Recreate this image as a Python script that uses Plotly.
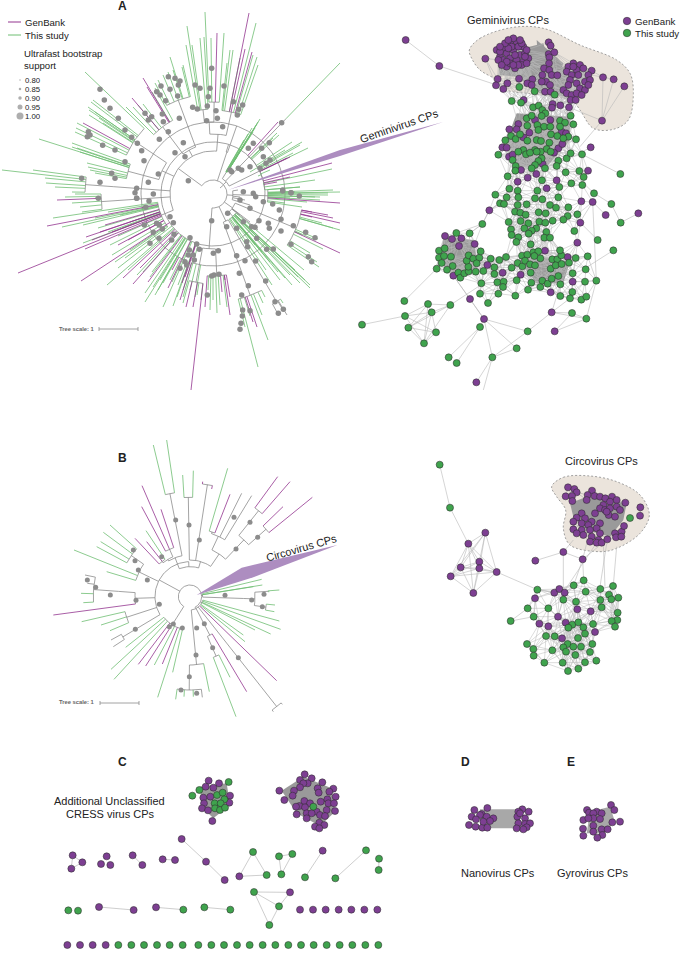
import math
import plotly.graph_objects as go

PURPLE = "#7d3f92"; GREEN = "#3fa34d"; EDGE = "#b9b9b9"; BLOB = "#9a9a9a"
T_GRAY = "#8c8c8c"; T_GREEN = "#6fbe72"; T_PURPLE = "#93358f"; BEIGE = "#ebe4dc"
FONT = "Liberation Sans"

def G(*v): return [(v[i], v[i+1], 'g') for i in range(0, len(v), 2)]
def P(*v): return [(v[i], v[i+1], 'p') for i in range(0, len(v), 2)]
def K(*v): return [(v[i], v[i+1], 'k') for i in range(0, len(v), 2)]
def N(r, *kids):
    out = []
    for k in kids:
        if isinstance(k, list) and k and isinstance(k[0], tuple): out += k
        else: out.append(k)
    return {'r': r, 'kids': out}

# ---------- Tree A (image pixels) ----------
a_top = N(60,
    N(72, N(85, G(187,26,192,45,186,45,200,38,204,37)), N(92, G(205,12,211,38,224,33), P(217,33))),
    N(70, N(84, G(230,50,227,63,233,50,256,23,253,55,257,57,258,65,240,58), P(249,13,245,49,252,52))))
a_upper = N(50,
    N(70, N(84, P(143,78,132,98,147,87), G(126,107,133,107,138,105,143,104,152,92,155,88))),
    N(62, N(100, G(170,57,155,83,158,80,163,75,168,72,173,70,182,67,183,65))))
a_nw = N(56,
    N(68, N(95, G(85,72,91,102,88,107,89,110,89,115,77,123,76,128,75,132,95,112,99,118,93,100,103,123), P(83,123))),
    N(88, G(39,139,72,143,72,147,77,148,80,152,87,163,88,167,90,170,95,173)))
a_w1 = N(70, N(100, N(128, G(2,170,33,170,45,178,46,183,55,187,72,192))))
a_w2 = N(78, N(112, G(65,197,75,194,72,203,80,207,82,212,95,198), P(57,200)))
a_w3 = N(48, N(56, G(53,218,62,227,83,225,83,243,112,255,115,262,118,236,108,232,98,228,120,215,108,212,95,218,130,222,122,228,110,245,130,250,125,258), P(47,226,105,225,86,237,85,249,18,273,100,232,92,240,112,232,118,245,128,240)))
a_big = N(43, a_top, a_upper, a_nw, a_w1, a_w2, a_w3)
a_sw = N(44,
    N(52, P(81,281,123,278,133,284,148,282,168,288,140,268,182,283,185,277), G(107,285,145,293,145,302,158,290,163,307,173,306,177,297,128,270,118,268,152,272,160,280,137,275,143,272,150,277,153,287,163,283,172,282,183,297)),
    N(72, G(170,280,155,295,183,290,178,285,190,290,195,297), P(172,270,180,300)))
a_south = N(55,
    N(90, P(191,390,186,307,193,307,200,283), G(201,300,197,295,183,303)),
    N(82, P(205,307,230,315,230,297,222,292,225,280), G(210,310,217,313,227,307,213,300,220,305,208,290)))
a_sse = N(30,
    N(70, N(108, G(245,327,258,367,268,340,262,315,263,303,265,297,250,316), P(257,327,253,322))),
    N(85, N(125, G(283,303,277,303), K(287,315,279,316,283,310))))
a_se = N(24,
    N(30, G(310,288,310,285,304,270,298,277,295,270,290,275,285,278,278,272,270,262,262,252,255,245,272,285,305,280,300,283,292,285,280,280,266,270)),
    N(55, N(90, G(319,267,317,262,310,253,323,249,315,240,318,239,302,235), P(340,253,328,215,333,218,340,223,312,212,312,217), G(322,223,333,228,340,230))),
    K(240,215,250,222,258,230))
a_e = N(20,
    N(55, G(340,192,333,190,328,193,320,197,328,195,320,200,315,197,307,202,302,207,295,192,300,187,290,198,285,203), P(340,203)),
    K(240,197,245,200,250,205,238,190))
a_ne = N(18,
    N(26, G(260,119,258,122,257,124,255,128,253,132,250,136,247,140,245,144,242,148,237,157,233,163,252,128,248,134,244,140,240,150)),
    N(52, P(278,122,287,158,290,157,332,163,290,177,277,182), G(279,135,277,133,273,138,292,142,302,142,300,145,308,148,293,153,332,169,315,180,263,184,300,187,270,170,258,176,250,172,285,150,275,160)),
    N(92, N(105, G(340,63))))
a_root = N(14, a_big, a_sw, a_south, a_sse, a_se, a_e, a_ne, K(220,188))

a_dots_z1 = [(300,268),(313,300),(330,325),(355,355),(375,390),(395,412),(412,430),(425,452),(432,482),(375,485),(345,450),(308,436),(265,395),(262,410),(270,405),(475,522),(445,547),(410,565),(410,595),(345,535),(335,520),(300,547),(245,535),(555,470),(525,458),(505,395),(550,428),(538,355),(478,418),(487,342),(490,365),(455,350),(445,360),(435,340),(505,230),(483,258),(470,275),(510,268),(525,235),(540,243),(535,255),(533,288),(497,302),(480,285),(620,362),(578,322),(592,327),(622,318),(648,332),(652,355),(668,380),(700,305),(712,345),(728,315),(716,328),(672,258),(630,265),(600,265),(585,255),(635,205),(625,290),(565,542),(845,368),(695,515),(760,430),(785,445),(808,428),(745,445),(790,470),(798,490),(715,505),(690,510),(725,510),(750,500),(780,505),(810,480),(730,575),(760,580),(848,570),(873,578)]
a_dots_z2 = [(405,8),(460,12),(410,25),(295,25),(447,33),(437,52),(510,80),(433,105),(470,100),(478,105),(520,98),(487,117),(460,127),(522,133),(515,150),(477,145),(450,160),(570,143),(590,162),(568,180),(598,178),(580,195),(565,195),(555,215),(560,225),(540,235),(583,210),(640,190),(655,182),(635,258),(657,253),(642,255),(622,315),(635,92),(680,110),(710,115),(740,155),(743,170),(710,197),(735,212),(718,250),(745,287),(725,315),(728,360),(750,362),(727,378),(723,400),(720,418),(767,213),(797,273),(825,335),(835,370),(850,358),(720,30),(750,55),(767,20),(790,35),(838,60),(843,88),(808,115),(805,100),(777,92),(880,107),(917,127),(945,143),(873,163),(820,177),(800,178),(770,145),(765,112),(755,110),(730,95),(683,70),(925,200),(935,215),(843,123),(848,3),(873,8),(898,18),(818,42)]
a_wedge_x = [228,340,443,340]; a_wedge_y = [190,150,122,156]

# ---------- Tree B (units of 1/3 pixel, offset y 440) ----------
b_c1 = N(315, G(460,15,500,0))
b_c2 = N(130, N(135, P(405,295,440,305), G(438,272)), N(155, P(426,137,425,200,483,208)))
b_c5 = N(200, N(205, G(683,85), P(690,163)), K(725,160,755,167))
b_c6 = N(235, N(330, P(833,110,870,125)), N(305, P(849,200,937,172)))
b_north = N(90, N(125, b_c1, b_c2),
    N(110, N(298, G(548,105,580,92)), N(190, N(340, P(608,125,635,147))), N(155, b_c5, b_c6)))
b_w1 = N(135, N(170, N(215, G(330,255,310,277,302,305,290,320)), G(222,330,320,395)))
b_w2 = N(165, N(215, N(290, G(243,460,250,488), K(255,405,262,430))), P(160,525))
b_w3 = N(200, G(245,545,303,555,330,572))
b_w4 = N(235, K(333,600,340,620))
b_big = N(105, b_north, b_w1, b_w2, b_w3, b_w4)
b_sw = N(75, N(100, G(377,622,333,688,342,718,463,675,518,697,473,772), P(415,673,437,678,487,672)))
b_s = N(40, N(205, G(628,755), N(280, G(527,778,552,770,580,770), K(607,772))),
            N(130, P(740,755), N(195, G(708,830,690,712))), P(830,722), N(420, K(820,815,847,793)))
b_fan = N(40, G(838,543,842,568,812,582,765,570,735,605,730,585))
b_e = N(38, G(785,418,787,435,760,440), N(160, N(195, N(235, G(838,450,808,455)), N(230, G(825,495,823,515)))))
b_root = N(35, b_big, b_sw, b_s, b_fan, b_e)
b_dots = [(527,240),(567,255),(598,300),(702,232),(750,247),(773,292),(708,327),(485,350),(400,330),(405,362),(415,390),(442,420),(287,442),(331,465),(408,481),(262,420),(406,568),(478,493),(520,552),(547,564),(508,560),(568,710),(543,750),(590,760),(588,645),(590,564),(638,623),(613,551),(715,653),(675,466),(755,480),(792,463),(787,500)]
b_wedge_x = [590,725,1012,760]; b_wedge_y = [465,383,315,412]

# ---------- Network A (zoom units; z3: 340+x/3, y/3 and z4: 340+x/3, 190+y/3) ----------
na_pur_z3 = [(490,145),(510,128),(530,125),(550,140),(480,170),(500,160),(520,150),(540,165),(555,160),(565,175),(470,150),(510,175),(530,180),(550,185),(490,180),(500,200),(525,205),(480,155),(515,140),(535,140),(545,195),(505,145),(495,130),(525,165),(475,180),(545,130),(520,115),(505,120),(540,120),(560,150),(480,140),(560,190),(510,190),(535,195),(500,185),(520,195),(555,170),(485,195),
  (473,237),(468,256),(502,250),(490,267),(537,236),(577,238),(562,250),(575,255),(626,127),(632,137),(626,162),(643,157),(628,172),(627,190),(612,205),(628,210),(607,225),(635,225),(652,226),(618,245),(605,245),(630,255),(615,275),(632,275),
  (700,190),(720,195),(685,200),(710,210),(730,205),(755,212),(680,215),(695,225),(715,225),(745,225),(690,240),(710,250),(735,245),(750,240),(685,255),(720,265),(735,270),(670,270),(680,280),(695,285),(710,280),(725,285),(692,300),(707,300),(745,255),(700,200),
  (551,300),(638,312),(636,323),(661,316),(687,322),(585,360),(631,360),(535,372),(508,388),(530,388),(568,398),(550,412),(665,395),(678,400),(487,442),(500,443),(655,445),(667,432),(642,458),(507,470),(518,464),(543,510),(589,522),(563,533),(533,545),(650,541),(620,565),(744,512),(608,492)]
na_grn_z3 = [(538,261),(584,274),(515,303),(543,308),(644,284),(579,322),(596,317),(607,330),(616,340),(560,355),(575,347),(692,347),(605,348),(562,377),(592,375),(612,380),(631,380),(595,390),(660,362),(675,368),(700,373),(660,380),(513,408),(496,421),(527,417),(540,403),(562,422),(590,420),(603,423),(633,403),(652,408),(685,410),(708,418),(670,415),(628,428),(620,447),(632,455),(602,455),(585,450),(550,450),(535,455),(558,463),(570,458),(590,455),(475,464),(518,480),(527,498),(526,512),(605,475),(595,483),(585,495),(575,505),(615,505),(655,482),(650,498),(680,475),(692,460),(726,463),(503,529),(677,517),(718,513),(731,531),(606,541),(694,550),(727,555),(508,566),(533,572),(592,572),(658,561)]
na_pur_z4 = [(724,34),(758,36),(721,98),(448,61),(712,158),(615,182),(683,201),(315,138),(336,147),(364,145),(404,162),(357,168),(442,225),(488,248),(542,254),(340,257),(698,275),(632,307)]
na_grn_z4 = [(466,14),(500,22),(535,22),(585,25),(607,28),(480,40),(492,42),(533,45),(560,43),(630,45),(648,53),(685,52),(655,22),(525,65),(541,68),(557,74),(596,67),(617,70),(712,73),(683,78),(670,89),(638,92),(598,95),(616,98),(542,93),(565,100),(506,96),(553,115),(589,115),(513,118),(575,122),(566,131),(515,135),(703,123),(619,126),(613,143),(630,143),(535,142),(529,156),(572,163),(427,102),
  (349,129),(389,130),(297,182),(314,175),(297,203),(312,198),(333,200),(305,219),(338,228),(290,236),(321,239),(355,248),(361,263),(373,250),(386,244),(407,245),(385,230),(380,212),(386,196),(400,206),(418,203),(422,184),(410,220),
  (452,206),(478,210),(498,201),(463,232),(430,243),(515,233),(463,252),(530,271),(472,277),(491,275),(489,291),(424,280),(420,311),(475,311),(526,317),(444,339),
  (546,197),(562,194),(580,187),(595,184),(601,205),(583,198),(533,219),(547,229),(555,212),(570,223),(585,226),(572,248),(564,299),(574,278),(601,291),(607,272),(623,281),(635,266),(655,258),(632,236),(637,208),(652,208),(647,226),(665,222),(687,218),(664,196),(660,181),(707,204),(743,199),(737,238),(698,250),(735,275),(769,272),(661,283),(697,306),(690,325),(661,318),(724,329),(739,320)]
na_sp_pur_z3 = [(436,176),(197,120),(298,198),(789,232),(821,238),(853,259),(786,362),(752,442)]
na_sp_grn_z3 = [(841,522),(762,580)]
na_sp_pur_z4 = [(797,75),(895,70),(390,327),(432,387),(635,367),(644,424),(409,577)]
na_sp_grn_z4 = [(814,42),(842,98),(773,150),(820,181),(193,333),(264,342),(331,345),(275,367),(195,378),(205,413),(288,427),(252,460),(66,404),(420,411),(563,424),(530,475),(457,502),(326,502),(350,519),(696,369),(739,386)]
na_edges_z3 = [((197,120),(298,198)),((298,198),(470,255)),((436,176),(473,237)),((436,176),(468,256)),((436,176),(490,180)),((786,362),(789,232)),((786,362),(821,238)),((786,362),(853,259)),((786,362),(687,322)),((786,362),(720,440)),((789,232),(755,212)),((821,238),(755,225)),((726,463),(841,522)),((752,442),(700,470)),((762,580),(700,520))]
na_edges_z4 = [((193,333),(290,236)),((66,404),(195,378)),((264,342),(331,345)),((264,342),(275,367)),((264,342),(195,378)),((264,342),(205,413)),((264,342),(252,460)),((331,345),(275,367)),((331,345),(205,413)),((331,345),(252,460)),((275,367),(195,378)),((275,367),(205,413)),((275,367),(288,427)),((275,367),(252,460)),((195,378),(288,427)),((195,378),(252,460)),((205,413),(288,427)),((205,413),(252,460)),((288,427),(252,460)),((331,345),(430,280)),((390,327),(340,257)),((432,387),(390,327)),((432,387),(563,424)),((432,387),(457,502)),((420,411),(326,502)),((420,411),(350,519)),((420,411),(432,387)),((457,502),(530,475)),((457,502),(563,424)),((530,475),(432,387)),((457,502),(409,577)),((457,502),(430,600)),((563,424),(635,367)),((635,367),(696,369)),((635,367),(739,386)),((644,424),(739,386)),((644,424),(696,369)),((635,367),(661,283)),((635,367),(690,325)),((739,386),(696,369)),((739,386),(769,272)),((820,181),(743,230)),((773,150),(721,98)),((842,98),(814,42)),((842,98),(895,70)),((814,42),(763,10)),((703,123),(758,36)),((758,36),(769,272)),((769,272),(743,199)),((797,75),(758,36)),((340,257),(432,387)),((427,102),(349,129)),((427,102),(389,130)),((448,61),(427,102)),((448,61),(480,40))]
na_hull_z3 = [(388,150),(420,115),(520,82),(610,85),(720,135),(830,180),(870,220),(880,280),(865,360),(820,388),(760,385),(720,330),(700,305),(640,290),(560,280),(500,270),(470,240),(420,210),(395,175),(388,150)]
na_blobs_z3 = [[(470,165),(610,130),(630,200),(680,200),(690,290),(600,280),(530,230),(480,225)],[(530,340),(690,350),(690,420),(620,500),(530,500),(500,420)],[(590,120),(670,190),(640,280),(600,260)]]
na_blobs_z4 = [[(310,140),(400,150),(415,230),(350,255),(300,220)],[(540,190),(690,215),(670,280),(590,280),(550,230)]]

# ---------- Network B (zoom: 400+x/3, 440+y/3) ----------
nb_pur = [(504,142),(523,147),(530,157),(497,169),(516,168),(517,183),(576,152),(563,165),(560,180),(584,168),(600,170),(616,175),(636,170),(650,180),(610,195),(630,185),(600,205),(615,210),(630,205),(650,200),(660,210),(626,225),(645,230),(620,215),(585,220),(676,188),(721,202),(720,227),(545,220),(530,233),(555,235),(575,245),(600,250),(520,245),(545,250),(565,255),(590,265),(520,268),(545,270),(570,270),(600,280),(530,280),(550,285),(575,290),(595,300),(570,305),(590,308),(605,308),(622,298),(645,280),(665,275),(672,258),(648,292),(664,290)]
nb_body_pur = [(463,458),(478,447),(494,458),(405,475),(532,508),(572,514),(474,530),(418,551),(445,559),(497,548),(585,576),(486,595)]
nb_body_grn = [(412,449),(521,436),(551,421),(601,447),(639,438),(557,455),(490,479),(528,485),(601,480),(627,464),(634,478),(655,473),(445,505),(383,505),(401,530),(605,502),(653,518),(652,540),(635,543),(645,560),(517,554),(535,547),(505,563),(550,562),(579,552),(555,581),(438,588),(464,589),(534,594),(577,612),(381,612),(400,627),(401,647),(457,631),(503,612),(490,622),(498,635),(520,620),(543,620),(570,636),(526,645),(488,668),(433,668),(555,667),(589,662),(535,686),(504,693)]
nb_left_pur = [(205,311),(256,278),(238,365),(182,382),(238,385),(290,396),(152,409),(220,459)]
nb_sp_pur = [(490,336),(548,358),(406,362)]
nb_sp_grn = [(119,74),(150,203),(332,543),(690,234)]
nb_edges = [((119,74),(150,203)),((150,203),(205,311)),((290,396),(412,449)),((412,449),(463,458)),((406,362),(490,336)),((490,336),(548,358)),((490,336),(490,450)),((548,358),(521,436)),((520,300),(490,336)),((548,358),(622,298)),((622,298),(600,440)),((650,320),(640,435)),((610,310),(615,440)),((560,310),(548,358)),((590,308),(495,450)),((332,543),(401,530)),((332,543),(383,505)),((548,358),(551,421))]
nb_hull = [(455,140),(490,112),(570,108),(650,125),(720,165),(748,225),(720,280),(650,325),(600,335),(510,315),(490,265),(497,210),(470,170),(455,140)]
nb_blobs = [[(510,190),(560,170),(680,190),(670,240),(630,290),(560,270),(520,230)]]

# ---------- Panel C (zoom: 30+x/3, 750+y/3) ----------
c1_pur = [(536,92),(567,100),(527,110),(550,113),(520,143),(541,140),(522,160),(600,137),(598,158),(516,175),(534,181),(547,213)]
c1_grn = [(596,96),(508,120),(487,137),(561,135),(578,128),(583,148),(554,160),(572,160),(555,175),(570,180),(585,173)]
c2_pur = [(824,73),(845,85),(810,90),(833,100),(820,100),(810,112),(877,97),(792,122),(748,122),(788,137),(863,115),(866,128),(910,116),(898,125),(892,148),(917,140),(763,150),(823,153),(872,155),(840,160),(895,160),(912,160),(808,168),(798,170),(825,172),(860,185),(890,180),(915,183),(800,193),(830,190),(845,190),(870,195),(885,198),(830,205),(868,218),(855,230),(883,225),(868,235)]
c2_grn = [(850,170)]
c_small_pur = [(128,316),(157,337),(124,356),(230,319),(213,342),(241,345),(308,316),(337,345),(398,328),(435,330),(455,267),(528,335),(584,390),(628,379),(878,302),(207,471),(311,480),(378,472),(780,427),(810,479),(849,479),(887,479),(926,479),(964,479),(1003,479),(1042,479),(112,585),(150,585),(188,585),(227,585)]
c_small_grn = [(669,306),(710,375),(747,319),(787,312),(754,373),(825,382),(1008,301),(916,385),(1047,326),(1046,360),(115,481),(144,482),(460,479),(523,472),(601,479),(672,426),(747,469),(718,525),(265,585),(304,585),(342,585),(381,585),(419,585),(458,585),(505,585),(544,585),(582,585),(621,585),(659,585),(698,585),(736,585),(775,585),(813,585),(851,585),(890,585),(929,585),(967,585),(1006,585),(1045,585)]
c_edges = [((128,316),(157,337)),((128,316),(124,356)),((157,337),(124,356)),((308,316),(337,345)),((398,328),(435,330)),((455,267),(528,335)),((528,335),(584,390)),((628,379),(669,306)),((669,306),(710,375)),((628,379),(710,375)),((747,319),(787,312)),((747,319),(754,373)),((787,312),(754,373)),((878,302),(825,382)),((1008,301),(916,385)),((1047,326),(1046,360)),((207,471),(311,480)),((378,472),(460,479)),((523,472),(601,479)),((672,426),(780,427)),((672,426),(747,469)),((672,426),(718,525)),((780,427),(747,469)),((747,469),(718,525))]
c_blobs = [[(510,110),(590,100),(600,165),(550,205),(515,170)],[(755,122),(820,80),(905,115),(915,185),(870,228),(800,190)]]

# ---------- Panels D, E (zoom: 430+x/3, 750+y/3) ----------
d_pur = [(133,180),(172,174),(155,192),(150,195),(125,200),(138,208),(170,200),(190,205),(180,213),(117,225),(137,230),(157,233),(172,233),(160,215),(277,178),(296,185),(265,185),(262,200),(285,205),(265,220),(285,222),(300,220),(290,232),(260,235),(280,238),(270,190)]
e_pur = [(543,165),(553,180),(471,180),(477,188),(500,185),(490,190),(515,190),(490,205),(510,207),(460,210),(475,205),(570,215),(547,217),(490,227),(459,236),(490,245),(515,238),(533,238),(517,255),(460,257),(502,263)]
d_blob = [(150,178),(265,178),(275,235),(150,235)]
e_blob = [(480,185),(540,170),(555,215),(520,250),(470,250)]

# ---------- Legends and texts ----------
legend_support = ["0.80", "0.85", "0.90", "0.95", "1.00"]
legend_support_y = [80, 89, 98, 107, 116]
legend_support_size = [1.5, 2.5, 3.5, 5, 7]

# ---------- helpers ----------
z1 = lambda p: (p[0]/3, p[1]/3)
z2 = lambda p: (p[0]/3, 190+p[1]/3)
z3 = lambda p: (340+p[0]/3, p[1]/3)
z4 = lambda p: (340+p[0]/3, 190+p[1]/3)
zb = lambda p: (400+p[0]/3, 440+p[1]/3)
zc = lambda p: (30+p[0]/3, 750+p[1]/3)
zd = lambda p: (430+p[0]/3, 750+p[1]/3)
z5 = lambda p: (p[0]/3, 440+p[1]/3)

fig = go.Figure()

def add_line(xs, ys, color, width, dash=None):
    fig.add_trace(go.Scatter(x=xs, y=ys, mode="lines", hoverinfo="skip", showlegend=False,
                             line=dict(color=color, width=width, dash=dash)))

def add_poly(pts, color, line_color=None, dash=None, smooth=False):
    fig.add_trace(go.Scatter(x=[p[0] for p in pts], y=[p[1] for p in pts], mode="lines", fill="toself",
                             fillcolor=color, hoverinfo="skip", showlegend=False,
                             line=dict(color=line_color or color, width=0.8 if line_color else 0, dash=dash,
                                       shape="spline" if smooth else "linear")))

def add_nodes(pts, color, size=7, outline=0.55):
    fig.add_trace(go.Scatter(x=[p[0] for p in pts], y=[p[1] for p in pts], mode="markers", hoverinfo="skip",
                             showlegend=False, marker=dict(color=color, size=size, line=dict(color="#2e2e2e", width=outline))))

def draw_tree(root, cx, cy, cut, scale_fn, width):
    seg = {'n': ([], []), 'g': ([], []), 'p': ([], [])}
    def ang(x, y):
        a = math.degrees(math.atan2(x-cx, cy-y))
        while a < cut: a += 360
        while a >= cut+360: a -= 360
        return a
    def pol(a, r):
        t = math.radians(a)
        return scale_fn((cx+r*math.sin(t), cy-r*math.cos(t)))
    def put(key, pts):
        sx, sy = seg[key]
        for q in pts:
            sx.append(q[0]); sy.append(q[1])
        sx.append(None); sy.append(None)
    def angle_of(n):
        if isinstance(n, tuple): return ang(n[0], n[1])
        aa = [angle_of(k) for k in n['kids']]
        return (min(aa)+max(aa))/2
    def walk(n):
        aa = [angle_of(k) for k in n['kids']]
        lo, hi = min(aa), max(aa)
        steps = max(2, int((hi-lo)/3)+2)
        put('n', [pol(lo+(hi-lo)*i/(steps-1), n['r']) for i in range(steps)])
        for k, a in zip(n['kids'], aa):
            if isinstance(k, tuple):
                put('g' if k[2]=='g' else 'p' if k[2]=='p' else 'n', [pol(a, n['r']), scale_fn((k[0], k[1]))])
            else:
                put('n', [pol(a, n['r']), pol(a, k['r'])])
                walk(k)
    walk(root)
    add_line(seg['n'][0], seg['n'][1], T_GRAY, width)
    add_line(seg['g'][0], seg['g'][1], T_GREEN, width)
    add_line(seg['p'][0], seg['p'][1], T_PURPLE, width)

def threshold_edges(pts, limit):
    xs, ys = [], []
    for i in range(len(pts)):
        for j in range(i+1, len(pts)):
            if math.hypot(pts[i][0]-pts[j][0], pts[i][1]-pts[j][1]) < limit:
                xs += [pts[i][0], pts[j][0], None]; ys += [pts[i][1], pts[j][1], None]
    return xs, ys

def pair_edges(pairs, fn):
    xs, ys = [], []
    for a, b in pairs:
        pa, pb = fn(a), fn(b)
        xs += [pa[0], pb[0], None]; ys += [pa[1], pb[1], None]
    return xs, ys

ident = lambda p: p

# Tree A
draw_tree(a_root, 213, 194, -162, ident, 0.8)
add_poly(list(zip(a_wedge_x, a_wedge_y)), "#ad8dc0")
add_nodes([z1(p) for p in a_dots_z1]+[z2(p) for p in a_dots_z2], T_GRAY, 5.5, 0)
# Tree B
draw_tree(b_root, 570, 470, -170, z5, 0.8)
add_poly([z5(p) for p in zip(b_wedge_x, b_wedge_y)], "#ad8dc0")
add_nodes([z5(p) for p in b_dots], T_GRAY, 5, 0)

# Network A
add_poly([z3(p) for p in na_hull_z3], BEIGE, "#8a8a8a", "2px,2px", True)
for b in na_blobs_z3: add_poly([z3(p) for p in b], BLOB)
for b in na_blobs_z4: add_poly([z4(p) for p in b], BLOB)
body = [z3(p) for p in na_pur_z3+na_grn_z3]+[z4(p) for p in na_pur_z4+na_grn_z4]
ex, ey = threshold_edges(body, 24)
add_line(ex, ey, EDGE, 0.5)
ex, ey = pair_edges(na_edges_z3, z3); add_line(ex, ey, EDGE, 0.6)
ex, ey = pair_edges(na_edges_z4, z4); add_line(ex, ey, EDGE, 0.6)
add_nodes([z3(p) for p in na_pur_z3+na_sp_pur_z3]+[z4(p) for p in na_pur_z4+na_sp_pur_z4], PURPLE)
add_nodes([z3(p) for p in na_grn_z3+na_sp_grn_z3]+[z4(p) for p in na_grn_z4+na_sp_grn_z4], GREEN)

# Network B
add_poly([zb(p) for p in nb_hull], BEIGE, "#8a8a8a", "2px,2px", True)
for b in nb_blobs: add_poly([zb(p) for p in b], BLOB)
ex, ey = threshold_edges([zb(p) for p in nb_body_pur+nb_body_grn], 28); add_line(ex, ey, EDGE, 0.5)
ex, ey = threshold_edges([zb(p) for p in nb_left_pur], 60); add_line(ex, ey, EDGE, 0.6)
ex, ey = threshold_edges([zb(p) for p in nb_pur], 14); add_line(ex, ey, BLOB, 0.5)
ex, ey = pair_edges(nb_edges, zb); add_line(ex, ey, EDGE, 0.6)
add_nodes([zb(p) for p in nb_pur+nb_body_pur+nb_left_pur+nb_sp_pur], PURPLE)
add_nodes([zb(p) for p in nb_body_grn+nb_sp_grn], GREEN)

# Panel C, D, E
for b in c_blobs: add_poly([zc(p) for p in b], BLOB)
ex, ey = pair_edges(c_edges, zc); add_line(ex, ey, EDGE, 0.7)
add_nodes([zc(p) for p in c1_pur+c2_pur+c_small_pur], PURPLE)
add_nodes([zc(p) for p in c1_grn+c2_grn+c_small_grn], GREEN)
add_poly([zd(p) for p in d_blob], "#a8a8a8")
add_poly([zd(p) for p in e_blob], "#a8a8a8")
add_nodes([zd(p) for p in d_pur+e_pur], PURPLE)

# Legends
add_line([8, 21], [22, 22], T_PURPLE, 1)
add_line([8, 21], [35, 35], T_GREEN, 1)
add_nodes([(20, y) for y in legend_support_y], T_GRAY, legend_support_size, 0)
add_nodes([(627, 21)], PURPLE, 7.5)
add_nodes([(627, 33)], GREEN, 7.5)
add_line([99, 99, None, 99, 138, None, 138, 138], [327, 331, None, 329, 329, None, 327, 331], T_GRAY, 0.8)
add_line([100, 100, None, 100, 139, None, 139, 139], [701, 705, None, 703, 703, None, 701, 705], T_GRAY, 0.8)

def txt(x, y, s, size=11, bold=False, anchor="center", angle=0, color="#222"):
    fig.add_annotation(x=x, y=y, text=f"<b>{s}</b>" if bold else s, showarrow=False, xref="x", yref="y",
                       xanchor=anchor, yanchor="middle", textangle=angle, borderpad=0,
                       font=dict(family=FONT, size=size, color=color))

for s, x, y in [("A", 122, 6), ("B", 122, 458), ("C", 122, 762), ("D", 465, 762), ("E", 571, 762)]:
    txt(x, y, s, 12, True)
txt(24, 22, "GenBank", 9.6, anchor="left")
txt(24, 35, "This study", 9.6, anchor="left")
txt(23, 53, "Ultrafast bootstrap", 9.6, anchor="left")
txt(23, 65, "support", 9.6, anchor="left")
for s, y in zip(legend_support, legend_support_y):
    txt(24, y, s, 7.8, anchor="left")
txt(58, 329, "Tree scale: 1", 5.8, True, anchor="left", color="#666")
txt(58, 702, "Tree scale: 1", 5.8, True, anchor="left", color="#666")
txt(399, 126, "Geminivirus CPs", 11, angle=-19)
txt(301, 548, "Circovirus CPs", 11, angle=-16)
txt(508, 20, "Geminivirus CPs", 11)
txt(601, 461, "Circovirus CPs", 11)
txt(634, 21, "GenBank", 9.7, anchor="left")
txt(634, 33, "This study", 9.7, anchor="left")
txt(109, 801, "Additional Unclassified", 11)
txt(110, 814, "CRESS virus CPs", 11)
txt(498, 873, "Nanovirus CPs", 11)
txt(592, 873, "Gyrovirus CPs", 11)

fig.update_layout(width=681, height=957, margin=dict(l=0, r=0, t=0, b=0), paper_bgcolor="white", plot_bgcolor="white",
                  showlegend=False, autosize=False,
                  xaxis=dict(range=[0, 681], visible=False, fixedrange=True),
                  yaxis=dict(range=[957, 0], visible=False, fixedrange=True))
fig.write_html("out.html", config={"displayModeBar": False}, post_script="document.body.style.margin='0';")
